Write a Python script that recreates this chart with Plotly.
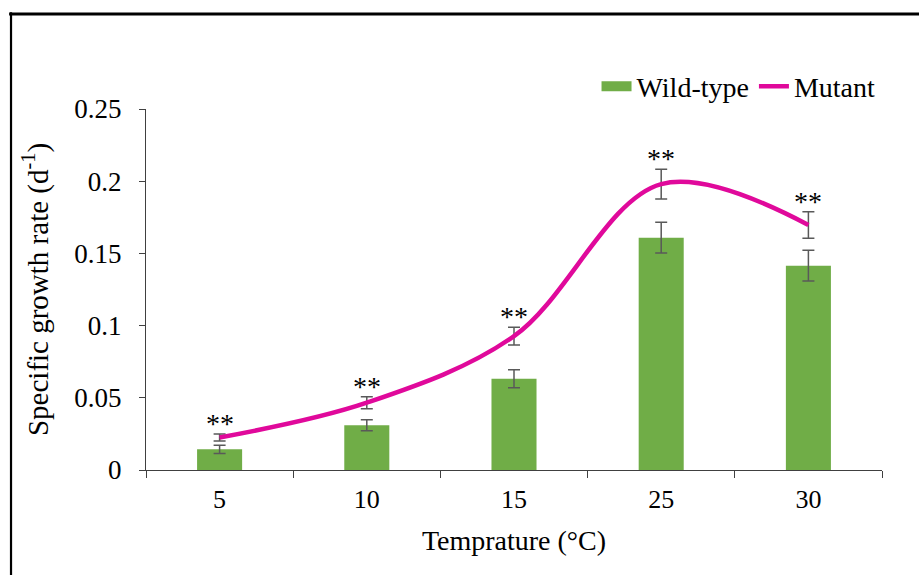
import plotly.graph_objects as go

# Growth-rate data per temperature
temperatures = ["5", "10", "15", "25", "30"]
wild_type = [0.0143, 0.0310, 0.0632, 0.1609, 0.1415]
wild_type_err = [0.0029, 0.0038, 0.0062, 0.0106, 0.0107]
mutant = [0.0225, 0.0466, 0.0927, 0.1980, 0.1697]
mutant_err = [0.0024, 0.0042, 0.0061, 0.0103, 0.0092]
significance = ["**", "**", "**", "**", "**"]

y_ticks = [0, 0.05, 0.1, 0.15, 0.2, 0.25]
y_tick_text = ["0", "0.05", "0.1", "0.15", "0.2", "0.25"]

FONT = "Liberation Serif, Times New Roman, serif"
AXIS_COLOR = "#404040"
ERR_COLOR = "#595959"
GREEN = "#70AD47"
MAGENTA = "#E0099B"

fig = go.Figure()

fig.add_trace(go.Bar(
    x=temperatures, y=wild_type, name="Wild-type", showlegend=False,
    marker=dict(color=GREEN, line=dict(width=0)),
    width=0.306,
    error_y=dict(type="data", array=wild_type_err, visible=True,
                 color=ERR_COLOR, thickness=1.5, width=6),
))

# Legend key for the bars: a wide green swatch
fig.add_trace(go.Scatter(
    x=[None], y=[None], name="Wild-type", mode="lines",
    line=dict(color=GREEN, width=14),
))

fig.add_trace(go.Scatter(
    x=temperatures, y=mutant, name="Mutant", mode="lines",
    line=dict(color=MAGENTA, width=4.5, shape="spline", smoothing=1.0),
    error_y=dict(type="data", array=mutant_err, visible=True,
                 color=ERR_COLOR, thickness=1.5, width=6),
))

# Significance markers above the mutant error bars
for i, (v, e, s) in enumerate(zip(mutant, mutant_err, significance)):
    fig.add_annotation(x=i, y=v + e, text=s, showarrow=False,
                       xref="x", yref="y",
                       yanchor="bottom", yshift=-7,
                       font=dict(family=FONT, size=28, color="black"))

# Outer frame lines (top and left)
fig.add_shape(type="line", xref="paper", yref="paper",
              x0=-0.186, x1=1.10, y0=1.2632, y1=1.2632,
              line=dict(color="black", width=3))
fig.add_shape(type="line", xref="paper", yref="paper",
              x0=-0.1834, x1=-0.1834, y0=1.268, y1=-0.40,
              line=dict(color="black", width=2.2))

fig.update_layout(
    width=919, height=575,
    margin=dict(l=146, r=37, t=109, b=105),
    plot_bgcolor="white", paper_bgcolor="white",
    font=dict(family=FONT, size=26, color="black"),
    showlegend=True,
    legend=dict(orientation="h", x=0.998, xanchor="right", y=1.062,
                yanchor="middle", traceorder="normal",
                font=dict(family=FONT, size=28, color="black"),
                bgcolor="rgba(0,0,0,0)", itemwidth=30),
    xaxis=dict(
        type="category", range=[-0.5, 4.5],
        showline=True, linecolor=AXIS_COLOR, linewidth=1.3,
        ticks="outside", tickson="boundaries", ticklen=7,
        tickcolor=AXIS_COLOR, tickwidth=1.3,
        ticklabelstandoff=6,
        tickfont=dict(family=FONT, size=26, color="black"),
        title=dict(text="Temprature (°C)", standoff=17,
                   font=dict(family=FONT, size=28, color="black")),
        showgrid=False, zeroline=False,
    ),
    yaxis=dict(
        range=[0, 0.25], tickvals=y_ticks, ticktext=y_tick_text,
        showline=True, linecolor=AXIS_COLOR, linewidth=1.3,
        ticks="outside", ticklen=6, tickcolor=AXIS_COLOR, tickwidth=1.3,
        ticklabelstandoff=12,
        tickfont=dict(family=FONT, size=27, color="black"),
        title=dict(text="Specific growth rate (d<sup>-1</sup>)", standoff=17,
                   font=dict(family=FONT, size=29, color="black")),
        showgrid=False, zeroline=False,
    ),
)

fig.write_html("out.html")
